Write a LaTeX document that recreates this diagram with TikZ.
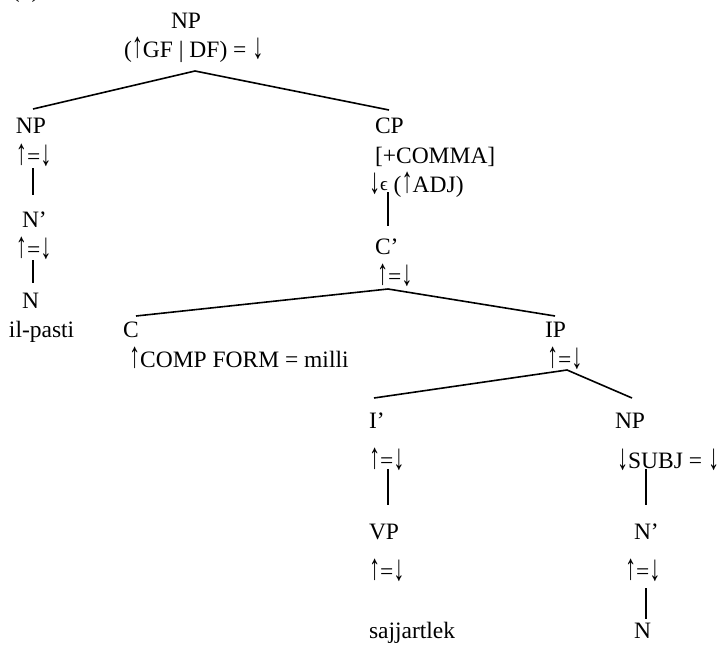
\documentclass[tikz,border=0pt]{standalone}
\usepackage{fontspec}
\usepackage{graphicx}
\setmainfont{Liberation Serif}
\newcommand{\upar}{\smash{\scalebox{0.95}[1.55]{↑}}}
\newcommand{\dnar}{\smash{\raisebox{-1pt}{\scalebox{0.95}[1.55]{↓}}}}
\newcommand{\eqd}{\upar=\dnar}
\begin{document}
\begin{tikzpicture}[x=1pt,y=-1pt,
  lbl/.style={anchor=base west,inner sep=0pt,outer sep=0pt,font=\fontsize{23.5}{26}\selectfont},
  edge/.style={line width=1.6pt}]
\useasboundingbox (0,0) rectangle (721,653);
\clip (0,0) rectangle (721,653);
% example number (cut off at top)
\node[lbl] (num) at (12,-2) {(1)};
% root
\node[lbl] (np0) at (171,28) {NP};
\node[lbl] (np0a) at (124,57) {(\upar GF | DF) = \dnar};
% left NP branch
\node[lbl] (np1) at (16,133) {NP};
\node[lbl] (np1a) at (16,164) {\eqd};
\node[lbl] (nb1) at (22,227) {N’};
\node[lbl] (nb1a) at (16,257) {\eqd};
\node[lbl] (n1) at (22,308) {N};
\node[lbl] (w1) at (9,337) {il-pasti};
% CP branch
\node[lbl] (cp) at (375,133) {CP};
\node[lbl] (cpa) at (375,163) {[+COMMA]};
\node[lbl] (cpb) at (369,192) {\dnar{\fontsize{19}{20}\selectfont\raisebox{2pt}{ϵ}} (\upar ADJ)};
\node[lbl] (cb) at (375,254) {C’};
\node[lbl] (cba) at (377,284) {\eqd};
\node[lbl] (c) at (123,337) {C};
\node[lbl] (ca) at (129,367) {\upar COMP FORM = milli};
\node[lbl] (ip) at (545,337) {IP};
\node[lbl] (ipa) at (547,367) {\eqd};
\node[lbl] (ib) at (369,428) {I’};
\node[lbl] (iba) at (369,468) {\eqd};
\node[lbl] (vp) at (369,539) {VP};
\node[lbl] (vpa) at (369,579) {\eqd};
\node[lbl] (w2) at (369,638) {sajjartlek};
\node[lbl] (np2) at (615,428) {NP};
\node[lbl] (np2a) at (617,468) {\dnar SUBJ = \dnar};
\node[lbl] (nb2) at (634,539) {N’};
\node[lbl] (nb2a) at (625,579) {\eqd};
\node[lbl] (n2) at (634,638) {N};
% connector end points
\coordinate (r0) at (195,71);
\coordinate (l0) at (33,109);
\coordinate (rr0) at (389,110);
\coordinate (t1) at (33,168);
\coordinate (b1) at (33,195);
\coordinate (t2) at (33,260);
\coordinate (b2) at (33,283);
\coordinate (t3) at (388,192);
\coordinate (b3) at (388,226);
\coordinate (r1) at (388,289);
\coordinate (l1) at (136,316);
\coordinate (rr1) at (555,316);
\coordinate (r2) at (567,370);
\coordinate (l2) at (374,398);
\coordinate (rr2) at (632,398);
\coordinate (t4) at (388,469);
\coordinate (b4) at (388,505);
\coordinate (t5) at (646,469);
\coordinate (b5) at (646,505);
\coordinate (t6) at (646,588);
\coordinate (b6) at (646,619);
% connectors
\draw[edge] (l0) -- (r0) -- (rr0);
\draw[edge] (t1) -- (b1);
\draw[edge] (t2) -- (b2);
\draw[edge] (t3) -- (b3);
\draw[edge] (l1) -- (r1) -- (rr1);
\draw[edge] (l2) -- (r2) -- (rr2);
\draw[edge] (t4) -- (b4);
\draw[edge] (t5) -- (b5);
\draw[edge] (t6) -- (b6);
\end{tikzpicture}
\end{document}
